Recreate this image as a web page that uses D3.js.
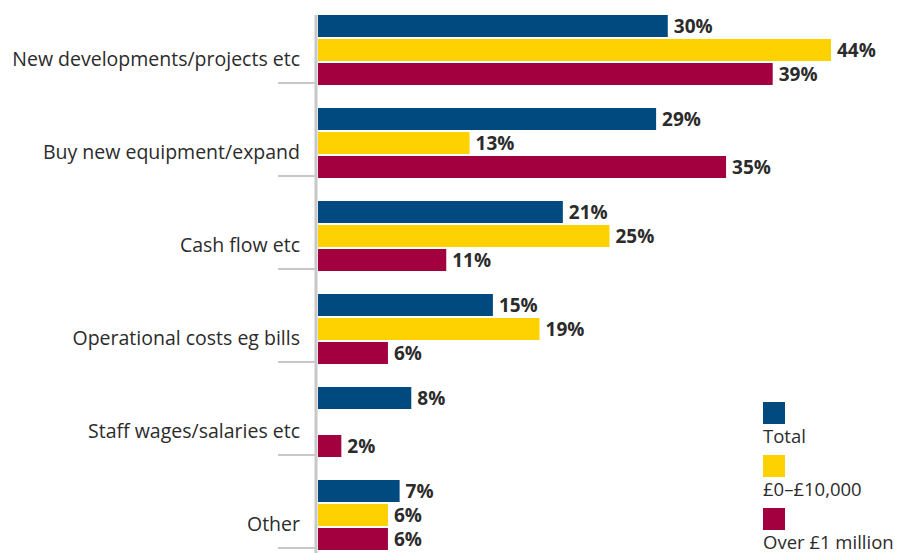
<!DOCTYPE html>
<html>
<head>
  <title>Uses of finance</title>
  <style>
    body { margin: 0; background: #fff; }
    svg { display: block; }
  </style>
</head>
<body>
  <div id="chart"></div>
  <script src="https://d3js.org/d3.v7.min.js"></script>
  <script>
    // Data
    const categories = [
      "New developments/projects etc",
      "Buy new equipment/expand",
      "Cash flow etc",
      "Operational costs eg bills",
      "Staff wages/salaries etc",
      "Other"
    ];
    const seriesNames = ["Total", "£0–£10,000", "Over £1 million"];
    const totalValues = [30, 29, 21, 15, 8, 7];
    const smallValues = [44, 13, 25, 19, null, 6];
    const largeValues = [39, 35, 11, 6, 2, 6];
    const seriesColors = ["#004a80", "#fed100", "#a30040"];

    const seriesValues = [totalValues, smallValues, largeValues];

    const width = 899, height = 553;

    const svg = d3.select("#chart")
      .append("svg")
      .attr("width", width)
      .attr("height", height);

    // Scales
    const y = d3.scaleBand()
      .domain(categories)
      .range([15, 15 + categories.length * 93])
      .padding(0);

    const inner = d3.scaleBand()
      .domain(seriesNames)
      .range([0, 70])
      .paddingInner(1 / 12)
      .paddingOuter(0);

    const x = d3.scaleLinear()
      .domain([0, 44])
      .range([318, 831]);

    // Category labels
    svg.append("g")
      .selectAll("text")
      .data(categories)
      .enter().append("text")
      .attr("x", 300)
      .attr("y", d => y(d) + 51)
      .attr("text-anchor", "end")
      .style("font-family", "'Open Sans', sans-serif")
      .style("font-size", "19.5px")
      .style("fill", "#2b2b2b")
      .text(d => d);

    // Tick marks
    svg.append("g")
      .selectAll("line")
      .data(categories)
      .enter().append("line")
      .attr("x1", 278)
      .attr("x2", 317)
      .attr("y1", d => y(d) + 68)
      .attr("y2", d => y(d) + 68)
      .attr("stroke", "#c8c8c8")
      .attr("stroke-width", 2);

    // Bars and value labels
    seriesNames.forEach((s, si) => {
      const rows = categories.map((c, ci) => ({ cat: c, value: seriesValues[si][ci] }))
        .filter(d => d.value != null);

      svg.append("g")
        .selectAll("rect")
        .data(rows)
        .enter().append("rect")
        .attr("x", x(0))
        .attr("y", d => y(d.cat) + inner(s))
        .attr("width", d => x(d.value) - x(0))
        .attr("height", inner.bandwidth())
        .attr("fill", seriesColors[si]);

      svg.append("g")
        .selectAll("text")
        .data(rows)
        .enter().append("text")
        .attr("x", d => x(d.value) + 6)
        .attr("y", d => y(d.cat) + inner(s) + inner.bandwidth() / 2)
        .attr("dy", "0.36em")
        .style("font-family", "'Open Sans', sans-serif")
        .style("font-weight", "bold")
        .style("font-size", "19px")
        .style("fill", "#2b2b2b")
        .text(d => d.value + "%");
    });

    // Axis line
    svg.append("line")
      .attr("x1", 316)
      .attr("x2", 316)
      .attr("y1", 15)
      .attr("y2", height)
      .attr("stroke", "#c8c8c8")
      .attr("stroke-width", 3);

    // Legend
    const legend = svg.append("g")
      .selectAll("g")
      .data(seriesNames)
      .enter().append("g")
      .attr("transform", (d, i) => "translate(763," + (402 + i * 53) + ")");

    legend.append("rect")
      .attr("width", 22)
      .attr("height", 22)
      .attr("fill", (d, i) => seriesColors[i]);

    legend.append("text")
      .attr("x", 0)
      .attr("y", 41)
      .style("font-family", "'Open Sans', sans-serif")
      .style("font-size", "18.5px")
      .style("fill", "#2b2b2b")
      .text(d => d);
  </script>
</body>
</html>
